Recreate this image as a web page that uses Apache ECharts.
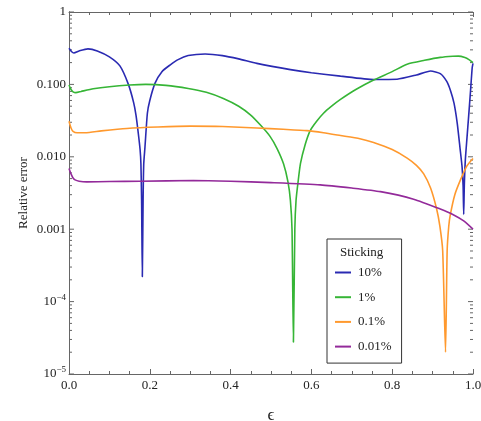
<!DOCTYPE html>
<html>
<head>
<meta charset="utf-8">
<script src="https://cdn.jsdelivr.net/npm/echarts@6/dist/echarts.min.js"></script>
<style>
  html, body { margin: 0; padding: 0; background: #fff; }
  #chart { width: 481px; height: 421px; }
</style>
</head>
<body>
<div id="chart"></div>
<script>
// relative error vs epsilon, one curve per sticking level
const seriesNames = ['10%', '1%', '0.1%', '0.01%']

const stick10 = [
  [0, 0.315], [0.006, 0.285], [0.012, 0.272], [0.025, 0.29], [0.047, 0.31], [0.07, 0.29],
  [0.1, 0.24], [0.126, 0.18], [0.147, 0.1], [0.16, 0.056], [0.166, 0.037], [0.172, 0.02],
  [0.176, 0.0125], [0.178, 0.008], [0.1797, 0.0025], [0.1815, 0.00022], [0.1834, 0.0025],
  [0.185, 0.008], [0.188, 0.0135], [0.194, 0.04], [0.2, 0.06], [0.213, 0.104], [0.23, 0.15],
  [0.25, 0.185], [0.27, 0.22], [0.295, 0.25], [0.337, 0.263], [0.38, 0.25], [0.42, 0.225],
  [0.465, 0.195], [0.548, 0.16], [0.6, 0.145], [0.672, 0.13], [0.754, 0.117], [0.812, 0.118],
  [0.86, 0.135], [0.895, 0.153], [0.919, 0.141], [0.935, 0.11], [0.944, 0.083], [0.953, 0.055],
  [0.961, 0.029], [0.968, 0.013], [0.973, 0.0072], [0.9755, 0.004], [0.977, 0.0016],
  [0.9785, 0.004], [0.981, 0.009], [0.985, 0.018], [0.989, 0.035], [0.994, 0.083],
  [0.998, 0.17], [1, 0.195]
]

const stick1 = [
  [0, 0.098], [0.005, 0.085], [0.01, 0.079], [0.017, 0.077], [0.03, 0.08], [0.06, 0.087],
  [0.1, 0.093], [0.15, 0.098], [0.19, 0.1], [0.24, 0.097], [0.295, 0.088], [0.34, 0.078],
  [0.382, 0.064], [0.42, 0.05], [0.449, 0.038], [0.475, 0.027], [0.498, 0.019], [0.515, 0.013],
  [0.531, 0.008], [0.542, 0.0045], [0.548, 0.0025], [0.552, 0.001], [0.5555, 0.0000275],
  [0.559, 0.001], [0.562, 0.0025], [0.567, 0.0045], [0.573, 0.0081], [0.585, 0.015],
  [0.597, 0.023], [0.613, 0.031], [0.63, 0.04], [0.65, 0.05], [0.672, 0.062], [0.71, 0.085],
  [0.754, 0.115], [0.8, 0.15], [0.837, 0.19], [0.88, 0.215], [0.919, 0.236], [0.95, 0.245],
  [0.964, 0.246], [0.98, 0.235], [0.99, 0.22], [1, 0.2]
]

const stick01 = [
  [0, 0.031], [0.005, 0.025], [0.01, 0.0225], [0.02, 0.0215], [0.04, 0.0215], [0.08, 0.0228],
  [0.143, 0.0246], [0.22, 0.0258], [0.3, 0.0265], [0.38, 0.0262], [0.465, 0.025], [0.53, 0.024],
  [0.589, 0.023], [0.63, 0.0215], [0.672, 0.0197], [0.72, 0.0178], [0.754, 0.0158], [0.8, 0.0126],
  [0.837, 0.0096], [0.86, 0.0076], [0.878, 0.0058], [0.895, 0.0037], [0.91, 0.0019],
  [0.918, 0.0011], [0.925, 0.0005], [0.932, 0.00002], [0.936, 0.0005], [0.94, 0.0011],
  [0.944, 0.0016], [0.955, 0.003], [0.969, 0.0048], [0.985, 0.0075], [1, 0.0095]
]

const stick001 = [
  [0, 0.0069], [0.005, 0.0058], [0.01, 0.0051], [0.015, 0.0048], [0.025, 0.0046], [0.044, 0.0045],
  [0.1, 0.00455], [0.176, 0.0046], [0.308, 0.0047], [0.4, 0.0046], [0.5, 0.0044], [0.622, 0.0041],
  [0.7, 0.0037], [0.771, 0.0033], [0.853, 0.0026], [0.919, 0.0019], [0.95, 0.0016],
  [0.977, 0.0013], [1, 0.001]
]

const colors = ['#2a2ab2', '#36b536', '#ff992e', '#932a9a']

// y tick labels by decade exponent
const yTickLabels = { '0': '1', '-1': '0.100', '-2': '0.010', '-3': '0.001', '-4': 'E-4', '-5': 'E-5' }
const minorMantissas = [2, 3, 4, 5, 6, 7, 8, 9]
const decades = [-5, -4, -3, -2, -1]
const majorDecades = [-5, -4, -3, -2, -1, 0]

const serif = "'Liberation Serif', 'DejaVu Serif', serif"

// [x placeholder, value, tick length]
let yTickVals = []
majorDecades.forEach(d => yTickVals.push([0, Math.pow(10, d), 5]))
decades.forEach(d => minorMantissas.forEach(m => yTickVals.push([0, m * Math.pow(10, d), 3])))

const chart = echarts.init(document.getElementById('chart'))

function yLabel(v) {
  const k = String(Math.round(Math.log10(v)))
  const t = yTickLabels[k]
  if (t && t[0] === 'E') return '{b|10}{s|' + t.slice(1).replace('-', '\u2212') + '}'
  return t || ''
}

const tickStyle = { color: '#666', width: 1 }

let option = {
  animation: false,
  textStyle: { fontFamily: serif },
  grid: { left: 69, right: 8, top: 12, bottom: 47, outerBoundsMode: 'none', containLabel: false },
  xAxis: [
    {
      type: 'value', min: 0, max: 1, interval: 0.2, position: 'bottom',
      axisLine: { show: true, lineStyle: tickStyle },
      splitLine: { show: false },
      axisTick: { show: true, inside: true, length: 5, lineStyle: tickStyle },
      minorTick: { show: true, splitNumber: 4, length: 3, lineStyle: tickStyle },
      axisLabel: { margin: 5, fontSize: 13, color: '#222', fontFamily: serif, formatter: v => v.toFixed(1) },
      name: '\u03f5', nameLocation: 'middle', nameGap: 33, nameMoveOverlap: false,
      nameTextStyle: { fontSize: 17, color: '#222', fontFamily: serif },
    },
    {
      type: 'value', min: 0, max: 1, interval: 0.2, position: 'top',
      axisLine: { show: true, lineStyle: tickStyle },
      splitLine: { show: false },
      axisTick: { show: true, inside: true, length: 5, lineStyle: tickStyle },
      minorTick: { show: true, splitNumber: 4, length: 3, lineStyle: tickStyle },
      axisLabel: { show: false },
    },
  ],
  yAxis: [
    {
      type: 'log', logBase: 10, min: 1e-5, max: 1, interval: 1, position: 'left',
      axisLine: { show: true, lineStyle: tickStyle },
      splitLine: { show: false },
      axisTick: { show: false },
      minorTick: { show: false },
      axisLabel: {
        margin: 3, fontSize: 13, color: '#222', fontFamily: serif, formatter: yLabel,
        rich: {
          b: { fontSize: 13, color: '#222', fontFamily: serif },
          s: { fontSize: 9, color: '#222', fontFamily: serif, padding: [0, 0, 8, 0] },
        },
      },
      name: 'Relative error', nameLocation: 'middle', nameGap: 39, nameMoveOverlap: false,
      nameTextStyle: { fontSize: 13, color: '#222', fontFamily: serif },
    },
    {
      type: 'log', logBase: 10, min: 1e-5, max: 1, interval: 1, position: 'right',
      axisLine: { show: true, lineStyle: tickStyle },
      splitLine: { show: false },
      axisTick: { show: false },
      minorTick: { show: false },
      axisLabel: { show: false },
    },
  ],
  legend: {
    data: seriesNames,
    orient: 'vertical',
    left: 327, top: 239,
    padding: [27, 10, 10, 8],
    itemGap: 11.7,
    itemWidth: 16, itemHeight: 2,
    icon: 'rect',
    backgroundColor: '#fff',
    borderColor: '#333', borderWidth: 1, borderRadius: 0,
    textStyle: { fontSize: 13, color: '#222', fontFamily: serif, padding: [0, 0, 0, 2] },
  },
  graphic: [{
    type: 'text', left: 340, top: 246, z: 100,
    style: { text: 'Sticking', fontSize: 13, fill: '#222', fontFamily: serif },
  }],
  series: [
    ...[stick10, stick1, stick01, stick001].map((d, i) => ({
      name: seriesNames[i],
      type: 'line',
      data: d,
      symbol: 'none',
      smooth: 0.2,
      clip: true,
      lineStyle: { color: colors[i], width: 1.6 },
      itemStyle: { color: colors[i] },
      z: 3 + i,
    })),
    {
      // log-scale ticks (decades + 2..9 per decade) on left and right frame edges
      type: 'custom',
      silent: true,
      data: yTickVals,
      renderItem(params, api) {
        const v = api.value(1)
        const len = api.value(2)
        const pl = api.coord([0, v])
        const pr = api.coord([1, v])
        return {
          type: 'group',
          children: [
            { type: 'line', shape: { x1: pl[0], y1: pl[1], x2: pl[0] + len, y2: pl[1] }, style: { stroke: '#666', lineWidth: 1 } },
            { type: 'line', shape: { x1: pr[0] - len, y1: pr[1], x2: pr[0], y2: pr[1] }, style: { stroke: '#666', lineWidth: 1 } },
          ],
        }
      },
    },
  ],
}

chart.setOption(option)
</script>
</body>
</html>
